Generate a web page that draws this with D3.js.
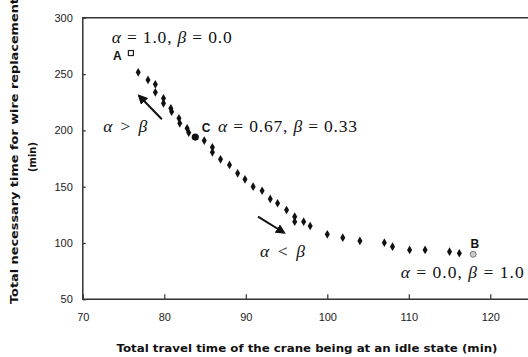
<!DOCTYPE html>
<html>
<head>
<meta charset="utf-8">
<script src="https://cdn.jsdelivr.net/npm/d3@7"></script>
<style>
body { margin: 0; background: #fff; }
svg { display: block; }
.tick text { font-family: "Liberation Sans Narrow", "Liberation Sans", Arial, sans-serif; font-size: 11px; fill: #222; }
.note { font-family: "Liberation Serif", "Times New Roman", serif; font-size: 17.5px; fill: #111; }
.pt { font-family: "Liberation Sans", Arial, sans-serif; font-weight: bold; font-size: 12px; fill: #111; }
.lab { font-family: "DejaVu Sans", Verdana, sans-serif; font-weight: bold; font-size: 10px; fill: #111; }
</style>
</head>
<body>
<div id="chart"></div>
<script>
// travel time (min) vs wire replacement time (min)
var travel = [76.8, 78.0, 78.9, 78.9, 79.9, 79.9, 80.8, 80.9, 81.8, 81.9, 82.8, 83.0,
              84.9, 85.9, 85.9, 86.9, 88.0, 89.0, 89.9, 90.9, 92.0, 93.0, 93.9, 95.0,
              96.0, 96.0, 97.1, 97.9, 100.0, 101.9, 104.0, 107.0, 108.0, 110.1, 112.0,
              115.0, 116.2];
var replace = [251.6, 244.8, 240.9, 233.8, 228.5, 224.1, 219.6, 216.6, 210.7, 206.3, 201.9, 198.0,
               191.0, 185.0, 180.5, 174.3, 169.3, 161.9, 156.6, 150.0, 146.4, 139.1, 135.3, 129.3,
               123.4, 118.9, 118.9, 115.1, 107.7, 104.7, 101.8, 100.3, 96.7, 93.8, 93.8,
               92.3, 90.9];

var pointA = [75.9, 268.7];
var pointB = [117.9, 90.0];
var pointC = [83.8, 194.1];

var x_ticks = [70, 80, 90, 100, 110, 120];
var y_ticks = [50, 100, 150, 200, 250, 300];

// arrows: [x1, y1, x2, y2] tail -> head
var arrows = [
    [79.7, 209.9, 76.9, 230.8],
    [91.5, 123.4, 94.7, 109.1]
];

// annotations: [x, y, text, width in px]
var notes = [
    [73.55, 277.6, "α = 1.0, β = 0.0", 120],
    [72.5, 198.8, "α > β", 44],
    [86.6, 198.8, "α = 0.67, β = 0.33", 139],
    [91.74, 87.8, "α < β", 45],
    [109.0, 68.6, "α  = 0.0, β = 1.0", 124]
];
var point_labels = [
    [73.7, 262.5, "A"],
    [84.59, 198.8, "C"],
    [117.57, 95.3, "B"]
];

var chart_width  = 528;
var chart_height = 357;

var svg = d3.select("#chart")
    .append("svg")
    .attr("width", chart_width)
    .attr("height", chart_height);

var x_scale = d3.scaleLinear()
    .domain([70, 130])
    .range([82.8, 82.8 + 60 * 8.15]);

var y_scale = d3.scaleLinear()
    .domain([50, 300])
    .range([299.3, 17.8]);

svg.append("defs").append("marker")
    .attr("id", "head")
    .attr("viewBox", "0 0 10 10")
    .attr("refX", 8)
    .attr("refY", 5)
    .attr("markerWidth", 5)
    .attr("markerHeight", 5)
    .attr("orient", "auto")
    .append("path")
    .attr("d", "M0,0 L10,5 L0,10 z")
    .attr("fill", "#111");

// axes
var x_axis = d3.axisBottom(x_scale).tickValues(x_ticks).tickSize(-5).tickPadding(14);
var y_axis = d3.axisLeft(y_scale).tickValues(y_ticks).tickSize(-3).tickPadding(10);

svg.append("g")
    .attr("transform", "translate(0," + y_scale(50) + ")")
    .call(x_axis);

svg.append("g")
    .attr("transform", "translate(" + x_scale(70) + ",0)")
    .call(y_axis);

svg.selectAll(".domain").remove();
svg.selectAll(".tick line").attr("stroke", "#333").attr("stroke-width", 1.2);

// frame
svg.append("path")
    .attr("d", "M" + chart_width + "," + y_scale(300) + " H" + x_scale(70) + " V" + y_scale(50) + " H" + chart_width)
    .attr("fill", "none")
    .attr("stroke", "#333")
    .attr("stroke-width", 1.5);

// points
svg.selectAll(".dot")
    .data(travel)
    .enter()
    .append("path")
    .attr("class", "dot")
    .attr("d", d3.symbol().type(d3.symbolDiamond).size(22))
    .attr("transform", function(d, i){
        return "translate(" + x_scale(d) + "," + y_scale(replace[i]) + ")";
    })
    .attr("fill", "#111");

svg.append("rect")
    .attr("x", x_scale(pointA[0]) - 2.5)
    .attr("y", y_scale(pointA[1]) - 2.5)
    .attr("width", 5)
    .attr("height", 5)
    .attr("fill", "#fff")
    .attr("stroke", "#222")
    .attr("stroke-width", 1.2);

svg.append("circle")
    .attr("cx", x_scale(pointC[0]))
    .attr("cy", y_scale(pointC[1]))
    .attr("r", 3.6)
    .attr("fill", "#111");

svg.append("circle")
    .attr("cx", x_scale(pointB[0]))
    .attr("cy", y_scale(pointB[1]))
    .attr("r", 3)
    .attr("fill", "#ccc")
    .attr("stroke", "#777")
    .attr("stroke-width", 1);

// arrows
svg.selectAll(".arrow")
    .data(arrows)
    .enter()
    .append("line")
    .attr("class", "arrow")
    .attr("x1", function(d){ return x_scale(d[0]); })
    .attr("y1", function(d){ return y_scale(d[1]); })
    .attr("x2", function(d){ return x_scale(d[2]); })
    .attr("y2", function(d){ return y_scale(d[3]); })
    .attr("stroke", "#111")
    .attr("stroke-width", 2)
    .attr("marker-end", "url(#head)");

// annotations, spread out to the reference width
svg.selectAll(".note")
    .data(notes)
    .enter()
    .append("text")
    .attr("class", "note")
    .attr("x", function(d){ return x_scale(d[0]); })
    .attr("y", function(d){ return y_scale(d[1]); })
    .each(function(d){
        var t = d3.select(this);
        d[2].split(/([αβ])/).forEach(function(s){
            if (!s) return;
            var span = t.append("tspan").text(s);
            if (s === "α" || s === "β") span.attr("font-style", "italic");
        });
        var w = this.getComputedTextLength();
        var n = d[2].length;
        if (n > 1) t.attr("letter-spacing", ((d[3] - w) / (n - 1)) + "px");
    });

svg.selectAll(".pt")
    .data(point_labels)
    .enter()
    .append("text")
    .attr("class", "pt")
    .attr("x", function(d){ return x_scale(d[0]); })
    .attr("y", function(d){ return y_scale(d[1]); })
    .text(function(d){ return d[2]; });

// axis titles
svg.append("text")
    .attr("class", "lab")
    .attr("x", 307)
    .attr("y", 352)
    .attr("text-anchor", "middle")
    .attr("textLength", 381)
    .attr("lengthAdjust", "spacingAndGlyphs")
    .text("Total travel time of the crane being at an idle state (min)");

svg.append("text")
    .attr("class", "lab")
    .attr("transform", "translate(17.5,151) rotate(-90)")
    .attr("text-anchor", "middle")
    .attr("textLength", 306)
    .attr("lengthAdjust", "spacingAndGlyphs")
    .text("Total necessary time for wire replacement");

svg.append("text")
    .attr("class", "lab")
    .attr("transform", "translate(36,157) rotate(-90)")
    .attr("text-anchor", "middle")
    .text("(min)");
</script>
</body>
</html>
